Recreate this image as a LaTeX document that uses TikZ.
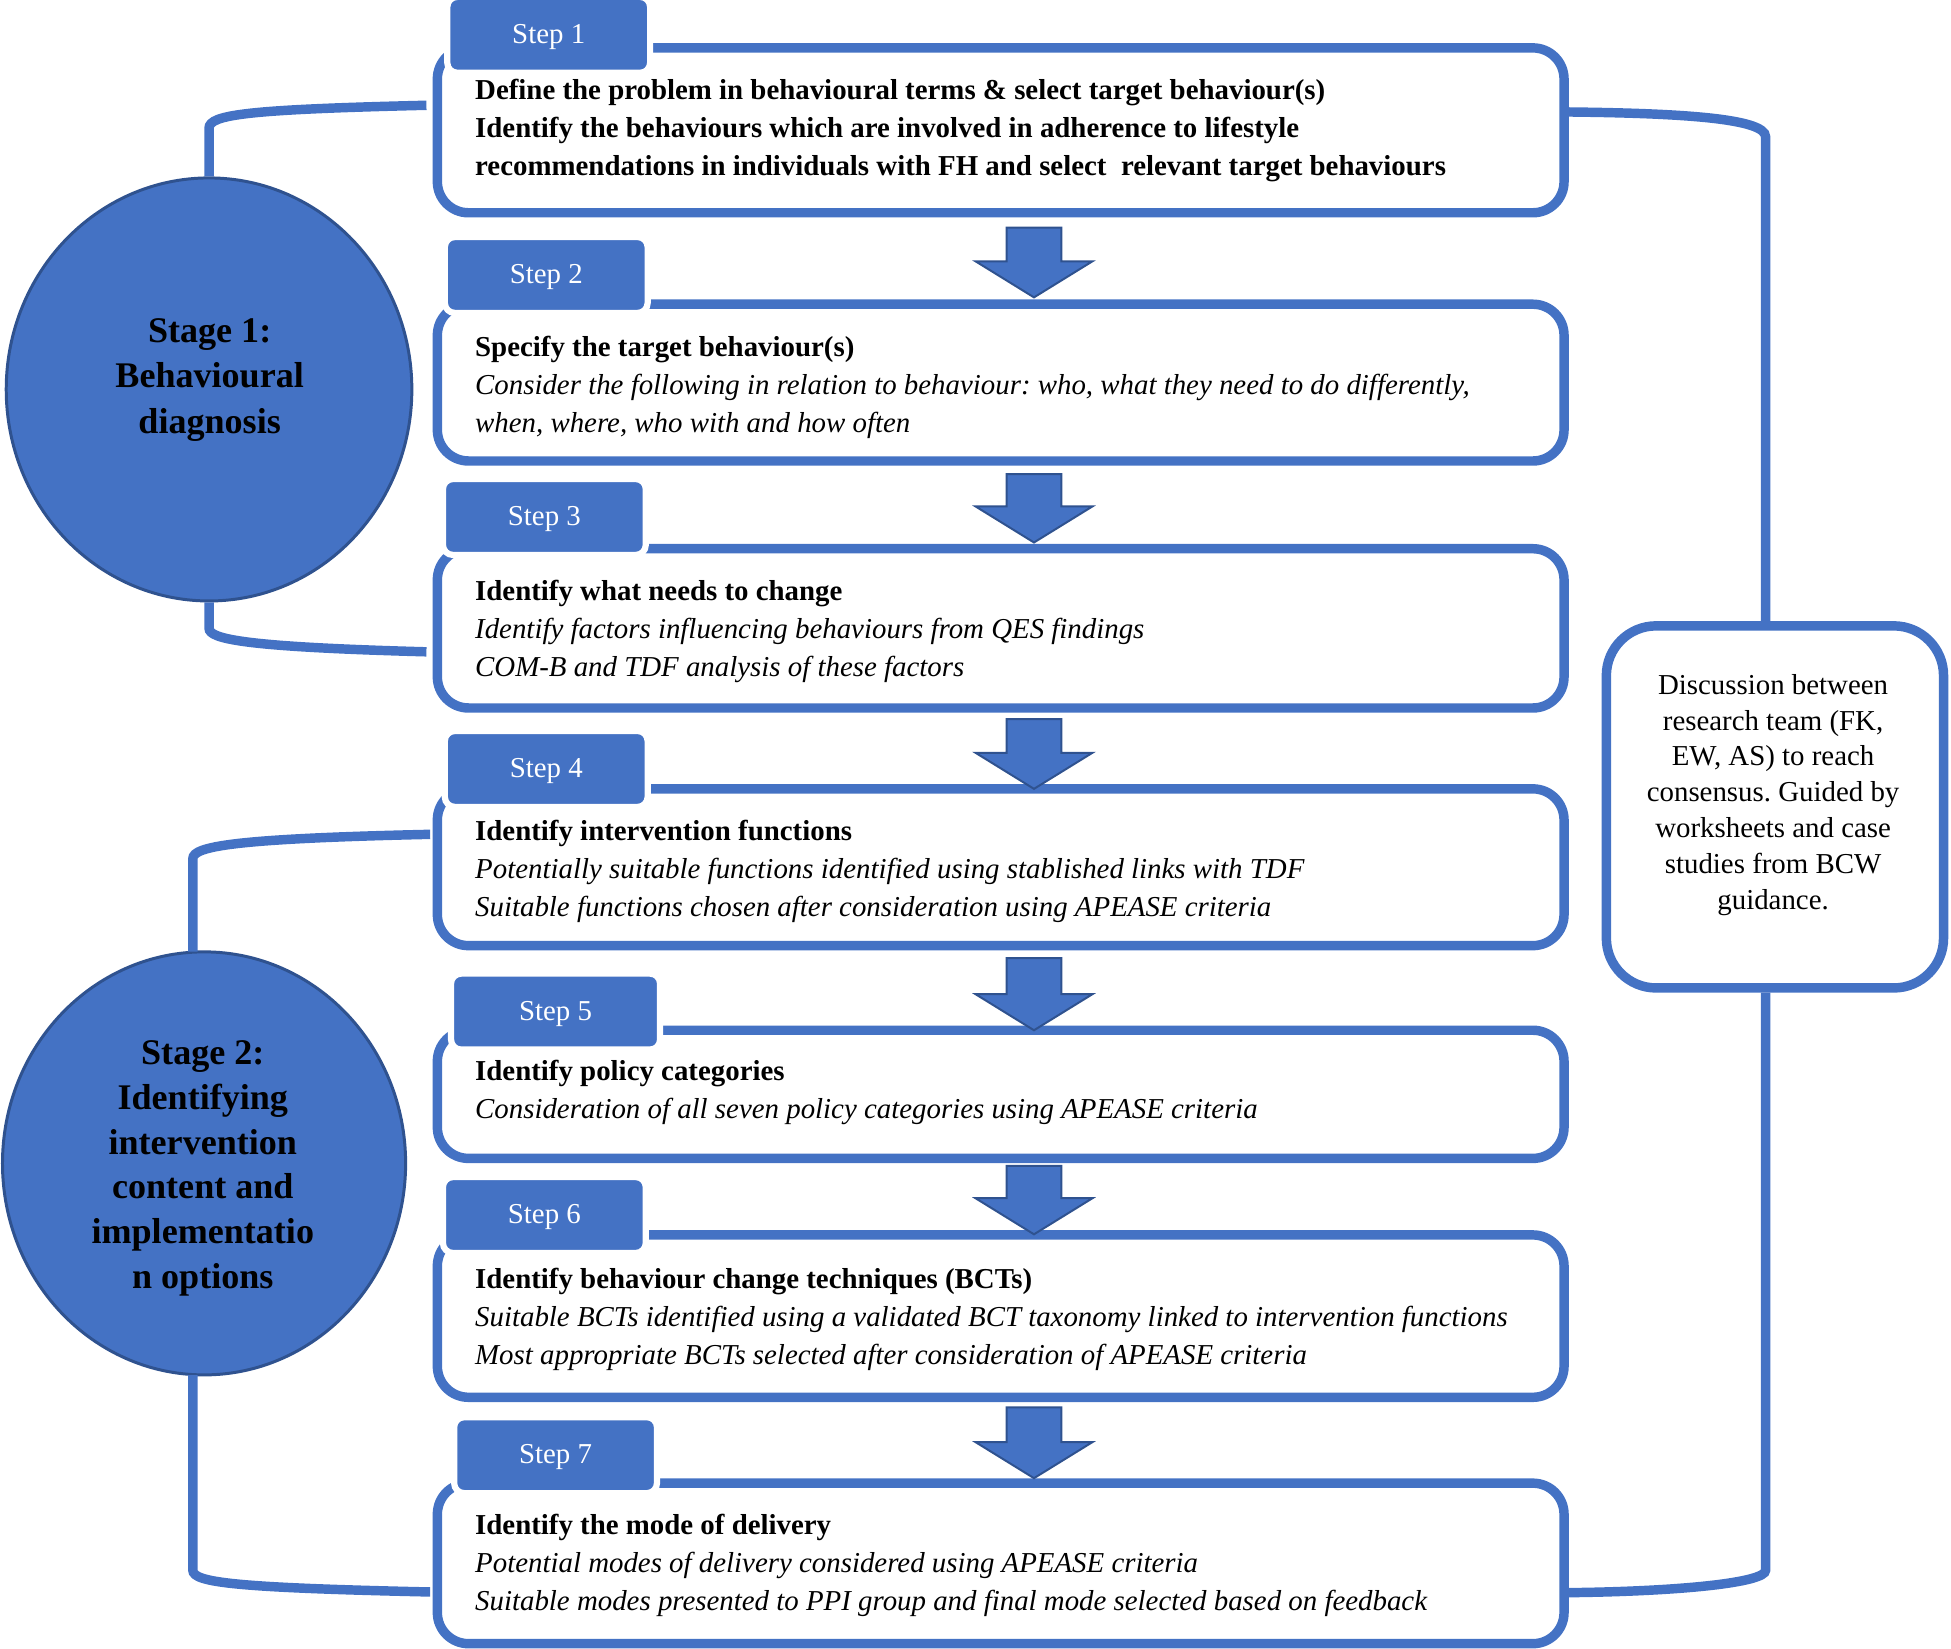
\documentclass[tikz,border=0pt]{standalone}
\usepackage{fontspec}
\setmainfont{Liberation Serif}
\usetikzlibrary{shapes.geometric}
\definecolor{bcwblue}{HTML}{4472C4}
\definecolor{bcwdark}{HTML}{2F528F}
\frenchspacing
\begin{document}
\begin{tikzpicture}[x=0.5pt,y=-0.5pt,
  stepbox/.style={draw=bcwblue, line width=3.8pt, rounded corners=12.5pt, fill=white, inner sep=0pt, minimum width=452.75pt},
  steptab/.style={fill=bcwblue, draw=white, line width=2.5pt, rounded corners=4pt, text=white, inner sep=0pt, minimum width=81.5pt, minimum height=30.5pt, font=\fontsize{11.6}{14}\selectfont, text height=8pt, text depth=1pt},
  boxtext/.style={anchor=north west, inner sep=0pt, align=left, font=\fontsize{11.6}{15.25}\selectfont},
  stagecirc/.style={ellipse, fill=bcwblue, draw=bcwdark, line width=1.2pt, inner sep=0pt},
  stagetext/.style={anchor=north, inner sep=0pt, align=center, font=\fontsize{14.5}{18}\selectfont\bfseries},
  disctext/.style={anchor=north, inner sep=0pt, align=center, font=\fontsize{11.6}{14.4}\selectfont},
  bracket/.style={draw=bcwblue, line width=3.8pt},
  blockarrow/.style={fill=bcwblue, draw=bcwdark, line width=0.8pt, line join=miter}
]
\useasboundingbox (0,0) rectangle (1568,1325);

% stage circles
\node[stagecirc, minimum width=163pt, minimum height=170pt] (s1) at (168,313) {};
\node[stagecirc, minimum width=162pt, minimum height=170pt] (s2) at (164,935) {};

% step boxes
\node[stepbox, minimum height=66.25pt] (b1) at (804.25,104.75) {};
\node[stepbox, minimum height=63pt]    (b2) at (804.25,307.5) {};
\node[stepbox, minimum height=64pt]    (b3) at (804.25,505) {};
\node[stepbox, minimum height=63pt]    (b4) at (804.25,697) {};
\node[stepbox, minimum height=51.5pt]  (b5) at (804.25,879.5) {};
\node[stepbox, minimum height=65.25pt] (b6) at (804.25,1057.75) {};
\node[stepbox, minimum height=64.5pt]  (b7) at (804.25,1256.5) {};

% discussion box
\node[draw=bcwblue, line width=3.8pt, rounded corners=20pt, fill=white, inner sep=0pt,
      minimum width=135.5pt, minimum height=145.5pt] (d) at (1426.5,648.5) {};

% brackets
\draw[bracket, shorten >=2.5pt] (s1.north) -- (168,103) .. controls (168,92) and (200,88) .. (b1.west |- 0,84.5);
\draw[bracket, shorten >=2.5pt] (s1.south) -- (168,505) .. controls (168,514) and (200,520) .. (b3.west |- 0,524);
\draw[bracket, shorten >=1pt] ([yshift=-0.5pt]s2.north -| 155,0) -- (155,690) .. controls (155,680) and (190,674) .. (b4.west |- 0,670.5);
\draw[bracket, shorten >=1pt] ([yshift=0.5pt]s2.south -| 155,0) -- (155,1262) .. controls (155,1272) and (190,1276) .. (b7.west |- 0,1279.5);
\draw[bracket] (b1.east |- 0,90) .. controls (1350,91) and (1419,95) .. (1419,110) -- (d.north -| 1419,0);
\draw[bracket] (d.south -| 1419,0) -- (1419,1262) .. controls (1419,1272) and (1350,1279) .. (b7.east |- 0,1280);

% block arrows
\foreach \t/\p in {183/239, 381/436, 578/634, 770/828, 937/992, 1131/1188}{
  \draw[blockarrow] (809,\t) -- (853,\t) -- (853,\p-29) -- (878,\p-29) -- (831,\p) -- (784,\p-29) -- (809,\p-29) -- cycle;
}

% step tabs
\node[steptab] (t1) at (441,28) {Step 1};
\node[steptab] (t2) at (439,221) {Step 2};
\node[steptab] (t3) at (437.5,415.5) {Step 3};
\node[steptab] (t4) at (439,618) {Step 4};
\node[steptab, minimum width=84pt] (t5) at (446.5,813) {Step 5};
\node[steptab] (t6) at (437.5,976.5) {Step 6};
\node[steptab] (t7) at (446.5,1169.5) {Step 7};

% box texts
\node[boxtext] (x1) at (381.5,63.5) {\textbf{Define the problem in behavioural terms \& select target behaviour(s)}\\
  \textbf{Identify the behaviours which are involved in adherence to lifestyle}\\
  \textbf{recommendations in individuals with FH and select\ \ relevant target behaviours}};
\node[boxtext] (x2) at (381.5,269.5) {\textbf{Specify the target behaviour(s)}\\
  \textit{Consider the following in relation to behaviour: who, what they need to do differently,}\\
  \textit{when, where, who with and how often}};
\node[boxtext] (x3) at (381.5,466) {\textbf{Identify what needs to change}\\
  \textit{Identify factors influencing behaviours from QES findings}\\
  \textit{COM-B and TDF analysis of these factors}};
\node[boxtext] (x4) at (381.5,659) {\textbf{Identify intervention functions}\\
  \textit{Potentially suitable functions identified using stablished links with TDF}\\
  \textit{Suitable functions chosen after consideration using APEASE criteria}};
\node[boxtext] (x5) at (381.5,852) {\textbf{Identify policy categories}\\
  \textit{Consideration of all seven policy categories using APEASE criteria}};
\node[boxtext] (x6) at (381.5,1018.5) {\textbf{Identify behaviour change techniques (BCTs)}\\
  \textit{Suitable BCTs identified using a validated BCT taxonomy linked to intervention functions}\\
  \textit{Most appropriate BCTs selected after consideration of APEASE criteria}};
\node[boxtext] (x7) at (381.5,1216.5) {\textbf{Identify the mode of delivery}\\
  \textit{Potential modes of delivery considered using APEASE criteria}\\
  \textit{Suitable modes presented to PPI group and final mode selected based on feedback}};

% stage texts
\node[stagetext, font=\fontsize{14.5}{18.25}\selectfont\bfseries] (st1) at (168.5,255.5) {Stage 1:\\Behavioural\\diagnosis};
\node[stagetext] (st2) at (163,836) {Stage 2:\\Identifying\\intervention\\content and\\implementatio\\n options};

% discussion text
\node[disctext] (dt) at (1425,541.5) {Discussion between\\research team (FK,\\EW, AS) to reach\\consensus. Guided by\\worksheets and case\\studies from BCW\\guidance.};
\end{tikzpicture}
\end{document}
